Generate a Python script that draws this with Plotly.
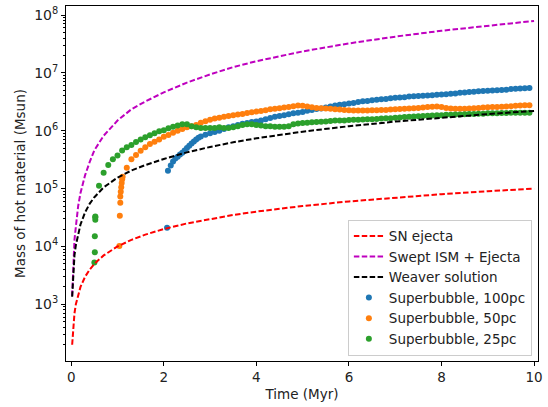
import numpy as np
import plotly.graph_objects as go

# ---- Analytic curves ----
line_t = [0.02, 0.04, 0.07, 0.1, 0.15, 0.2, 0.3, 0.4, 0.5, 0.7, 1.0, 1.3, 1.6,
          2.0, 2.5, 3.0, 3.5, 4.0, 5.0, 6.0, 7.0, 8.0, 9.0, 10.0]
sn_ejecta = [200, 400, 700, 1000, 1500, 2000, 3000, 4000, 5000, 7000, 1.0e4, 1.3e4, 1.6e4,
             2.0e4, 2.5e4, 3.0e4, 3.5e4, 4.0e4, 5.0e4, 6.0e4, 7.0e4, 8.0e4, 9.0e4, 1.0e5]
swept_ism = [1.4e3, 5.0e3, 1.3e4, 2.2e4, 5.0e4, 8.4e4, 1.71e5, 2.9e5, 4.6e5, 8.2e5, 1.5e6, 2.35e6, 3.2e6,
             4.6e6, 6.8e6, 9.4e6, 1.26e7, 1.59e7, 2.35e7, 3.23e7, 4.23e7, 5.35e7, 6.57e7, 7.9e7]
weaver = [1.35e3, 3.5e3, 7.0e3, 1.05e4, 1.7e4, 2.4e4, 3.9e4, 5.5e4, 7.1e4, 1.05e5, 1.55e5, 2.05e5, 2.55e5,
          3.25e5, 4.23e5, 5.25e5, 6.31e5, 7.4e5, 9.64e5, 1.198e6, 1.439e6, 1.687e6, 1.94e6, 2.2e6]

# ---- Simulation outputs ----
sb100_t_early = [2.07, 2.09, 2.15, 2.2, 2.25, 2.3, 2.35, 2.4, 2.45, 2.5, 2.55, 2.6, 2.65, 2.7, 2.75, 2.8, 2.9]
sb100_m_early = [2.1e4, 2.04e5, 2.51e5, 2.95e5, 3.31e5, 3.55e5, 3.89e5, 4.17e5, 4.57e5, 5.01e5, 5.50e5,
                 6.03e5, 6.53e5, 7.08e5, 7.59e5, 7.94e5, 8.51e5]
sb100_m_late = [  # t = 3.0 ... 9.9
    9.02e5, 9.55e5, 1.00e6, 1.07e6, 1.15e6, 1.20e6, 1.26e6, 1.32e6, 1.36e6, 1.41e6,
    1.45e6, 1.51e6, 1.58e6, 1.66e6, 1.74e6, 1.80e6, 1.86e6, 1.93e6, 2.00e6, 2.04e6,
    2.11e6, 2.21e6, 2.29e6, 2.37e6, 2.43e6, 2.51e6, 2.63e6, 2.72e6, 2.82e6, 2.88e6,
    2.95e6, 3.02e6, 3.13e6, 3.24e6, 3.27e6, 3.35e6, 3.43e6, 3.51e6, 3.55e6, 3.63e6,
    3.72e6, 3.76e6, 3.80e6, 3.89e6, 3.94e6, 3.98e6, 4.03e6, 4.07e6, 4.12e6, 4.17e6,
    4.22e6, 4.27e6, 4.37e6, 4.42e6, 4.52e6, 4.57e6, 4.68e6, 4.73e6, 4.79e6, 4.84e6,
    4.90e6, 4.95e6, 5.01e6, 5.07e6, 5.13e6, 5.25e6, 5.31e6, 5.37e6, 5.43e6, 5.50e6]

sb50_t_early = [1.04, 1.05, 1.06, 1.06, 1.07, 1.08, 1.09, 1.10, 1.11, 1.2, 1.3, 1.4, 1.5, 1.6, 1.7, 1.8, 1.9]
sb50_m_early = [1.02e4, 3.4e4, 5.7e4, 7.3e4, 8.8e4, 1.05e5, 1.25e5, 1.45e5, 1.6e5,
                2.29e5, 3.20e5, 3.80e5, 4.51e5, 5.16e5, 5.89e5, 6.46e5, 7.08e5]
sb50_m_late = [  # t = 2.0 ... 9.9
    7.87e5, 8.43e5, 9.23e5, 1.00e6, 1.07e6, 1.15e6, 1.20e6, 1.26e6, 1.38e6, 1.46e6,
    1.55e6, 1.62e6, 1.68e6, 1.74e6, 1.80e6, 1.86e6, 1.91e6, 1.95e6, 2.02e6, 2.09e6,
    2.14e6, 2.19e6, 2.26e6, 2.34e6, 2.40e6, 2.45e6, 2.51e6, 2.57e6, 2.66e6, 2.72e6,
    2.69e6, 2.63e6, 2.54e6, 2.48e6, 2.45e6, 2.43e6, 2.40e6, 2.34e6, 2.32e6, 2.29e6,
    2.26e6, 2.24e6, 2.24e6, 2.24e6, 2.24e6, 2.26e6, 2.26e6, 2.29e6, 2.29e6, 2.32e6,
    2.34e6, 2.37e6, 2.40e6, 2.43e6, 2.45e6, 2.48e6, 2.51e6, 2.57e6, 2.60e6, 2.63e6,
    2.57e6, 2.48e6, 2.43e6, 2.40e6, 2.40e6, 2.40e6, 2.43e6, 2.45e6, 2.48e6, 2.51e6,
    2.54e6, 2.57e6, 2.57e6, 2.60e6, 2.63e6, 2.66e6, 2.69e6, 2.72e6, 2.75e6, 2.75e6]

sb25_t_early = [0.50, 0.51, 0.51, 0.52, 0.52, 0.52, 0.6, 0.7, 0.8, 0.9]
sb25_m_early = [5.3e3, 7.9e3, 1.5e4, 2.9e4, 3.2e4, 3.3e4, 1.12e5, 1.88e5, 2.55e5, 3.20e5]
sb25_m_late = [  # t = 1.0 ... 9.9
    3.75e5, 4.57e5, 5.16e5, 5.66e5, 6.38e5, 7.08e5, 7.69e5, 8.32e5, 9.02e5, 9.77e5,
    1.02e6, 1.10e6, 1.17e6, 1.23e6, 1.29e6, 1.29e6, 1.20e6, 1.15e6, 1.12e6, 1.12e6,
    1.12e6, 1.12e6, 1.15e6, 1.12e6, 1.12e6, 1.15e6, 1.20e6, 1.26e6, 1.29e6, 1.29e6,
    1.26e6, 1.23e6, 1.20e6, 1.19e6, 1.17e6, 1.17e6, 1.17e6, 1.20e6, 1.29e6, 1.33e6,
    1.36e6, 1.38e6, 1.40e6, 1.41e6, 1.43e6, 1.45e6, 1.48e6, 1.50e6, 1.51e6, 1.51e6,
    1.53e6, 1.55e6, 1.55e6, 1.57e6, 1.58e6, 1.58e6, 1.60e6, 1.62e6, 1.64e6, 1.64e6,
    1.68e6, 1.70e6, 1.72e6, 1.74e6, 1.76e6, 1.78e6, 1.80e6, 1.82e6, 1.84e6, 1.86e6,
    1.86e6, 1.88e6, 1.88e6, 1.91e6, 1.91e6, 1.93e6, 1.95e6, 1.95e6, 1.97e6, 1.97e6,
    2.00e6, 2.00e6, 2.00e6, 2.02e6, 2.02e6, 2.04e6, 2.04e6, 2.04e6, 2.04e6, 2.04e6]


def snapshot_times(start, values):
    return [round(start + 0.1 * i, 2) for i in range(len(values))]


sb100_t = sb100_t_early + snapshot_times(3.0, sb100_m_late)
sb100_m = sb100_m_early + sb100_m_late
sb50_t = sb50_t_early + snapshot_times(2.0, sb50_m_late)
sb50_m = sb50_m_early + sb50_m_late
sb25_t = sb25_t_early + snapshot_times(1.0, sb25_m_late)
sb25_m = sb25_m_early + sb25_m_late

FONT = "DejaVu Sans"
dash = "5.5px,2.4px"

fig = go.Figure()

for name, t, m, color, rank in [
    ("Superbubble, 100pc", sb100_t, sb100_m, "#1f77b4", 4),
    ("Superbubble, 50pc", sb50_t, sb50_m, "#ff7f0e", 5),
    ("Superbubble, 25pc", sb25_t, sb25_m, "#2ca02c", 6),
]:
    fig.add_trace(go.Scatter(x=t, y=m, mode="markers", name=name, legendrank=rank,
                             marker=dict(color=color, size=6, line=dict(width=0))))

for name, m, color, rank in [
    ("SN ejecta", sn_ejecta, "#ff0000", 1),
    ("Swept ISM + Ejecta", swept_ism, "#bf00bf", 2),
    ("Weaver solution", weaver, "#000000", 3),
]:
    fig.add_trace(go.Scatter(x=line_t, y=m, mode="lines", name=name, legendrank=rank,
                             line=dict(color=color, width=2, dash=dash)))

decades = [3, 4, 5, 6, 7, 8]
fig.update_layout(
    width=548, height=407,
    margin=dict(l=66, r=5, t=6, b=46),
    paper_bgcolor="white", plot_bgcolor="white",
    font=dict(family=FONT, size=13, color="black"),
    showlegend=True,
    legend=dict(x=0.987, y=0.015, xanchor="right", yanchor="bottom",
                bgcolor="rgba(255,255,255,0.85)", bordercolor="#cccccc", borderwidth=1,
                font=dict(family=FONT, size=13.5, color="#222"),
                traceorder="normal", tracegroupgap=0),
    xaxis=dict(range=[-0.113, 10.085], tickvals=[0, 2, 4, 6, 8, 10],
               ticks="outside", ticklen=4, tickwidth=1, tickcolor="black",
               tickfont=dict(size=13.5, color="#222"),
               showline=True, linecolor="black", linewidth=1, mirror=True,
               showgrid=False, zeroline=False,
               title=dict(text="Time (Myr)", standoff=5, font=dict(size=13.5, color="#222"))),
    yaxis=dict(type="log", range=[2.02, 8.156],
               tickvals=[10 ** d for d in decades],
               ticktext=[f"10<sup>{d}</sup>" for d in decades],
               ticks="outside", ticklen=4, tickwidth=1, tickcolor="black",
               tickfont=dict(size=14, color="#222"),
               minor=dict(ticks="outside", ticklen=2, tickcolor="black", dtick="D1", showgrid=False),
               showline=True, linecolor="black", linewidth=1, mirror=True,
               showgrid=False, zeroline=False,
               title=dict(text="Mass of hot material (Msun)", standoff=5,
                          font=dict(size=13.5, color="#222"))),
)

fig.write_html("out.html")
